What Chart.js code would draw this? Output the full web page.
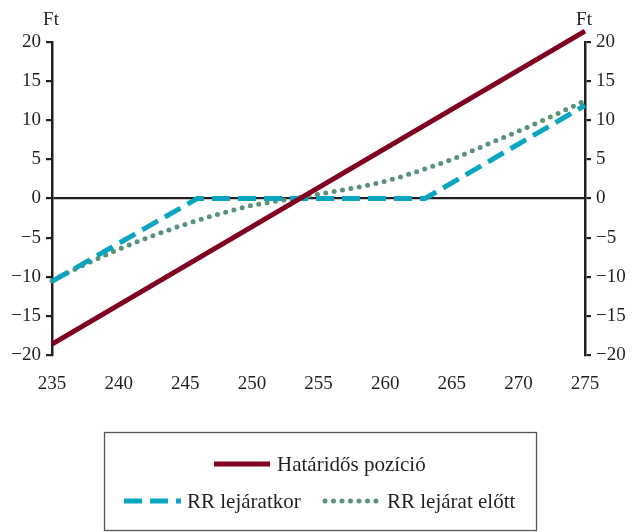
<!DOCTYPE html>
<html lang="hu">
<head>
<meta charset="UTF-8">
<title>Határidős pozíció és RR</title>
<script src="https://cdn.jsdelivr.net/npm/chart.js"></script>
<style>
  html, body { margin: 0; padding: 0; background: #fff; }
  #wrap { width: 635px; height: 532px; }
</style>
</head>
<body>
<div id="wrap"><canvas id="chart" width="635" height="532"></canvas></div>
<script>
// tick labels
const xTicks = [235, 240, 245, 250, 255, 260, 265, 270, 275];
const yTicks = [-20, -15, -10, -5, 0, 5, 10, 15, 20];
const unitLabel = 'Ft';

// series (x = árfolyam, y = eredmény Ft)
const fwdX = [235, 275];
const fwdY = [-18.6, 21.4];

const rrExpX = [235, 245.9, 263, 275];
const rrExpY = [-10.6, 0, 0, 11.9];

const rrPreX = [235, 237.5, 240, 242.5, 245, 247.5, 250, 252.5, 255, 257.5, 260, 262.5, 265, 267.5, 270, 272.5, 275];
const rrPreY = [-10.5, -8.4, -6.5, -4.8, -3.3, -2.0, -0.9, -0.15, 0.55, 1.3, 2.2, 3.5, 5.0, 6.8, 8.6, 10.5, 12.5];

const seriesNames = ['Határidős pozíció', 'RR lejáratkor', 'RR lejárat előtt'];

const toPts = (xs, ys) => xs.map((x, i) => ({x: x, y: ys[i]}));
const serif = 'Liberation Serif, Times New Roman, serif';
const ink = '#231f20';

const minus = v => v < 0 ? '\u2212' + Math.abs(v) : String(v);

// legend box + "Ft" unit labels, drawn on the canvas
const extras = {
  id: 'extras',
  afterDraw(chart) {
    const ctx = chart.ctx;
    const ds = chart.data.datasets;
    ctx.save();
    ctx.font = '19px ' + serif;
    ctx.fillStyle = ink;
    ctx.textBaseline = 'alphabetic';
    ctx.textAlign = 'center';
    ctx.fillText(unitLabel, chart.chartArea.left - 1, 25);
    ctx.fillText(unitLabel, chart.chartArea.right - 1, 25);

    // legend frame
    ctx.strokeStyle = '#555';
    ctx.lineWidth = 1.3;
    ctx.strokeRect(104.5, 432.5, 432, 98);

    const sample = (d, x0, x1, y) => {
      ctx.save();
      ctx.strokeStyle = d.borderColor;
      ctx.lineWidth = d.borderWidth;
      ctx.lineCap = d.borderCapStyle || 'butt';
      ctx.setLineDash(d.borderDash || []);
      ctx.beginPath();
      ctx.moveTo(x0, y);
      ctx.lineTo(x1, y);
      ctx.stroke();
      ctx.restore();
    };
    ctx.font = '21px ' + serif;
    ctx.textAlign = 'left';
    ctx.textBaseline = 'middle';
    sample(ds[0], 214, 270, 464);
    ctx.fillText(ds[0].label, 277, 465);
    sample(ds[1], 124, 181, 501);
    ctx.fillText(ds[1].label, 187, 502);
    sample(ds[2], 325, 383, 501);
    ctx.fillText(ds[2].label, 387, 502);
    ctx.restore();
  }
};

const yAxis = (pos) => ({
  type: 'linear',
  position: pos,
  min: yTicks[0],
  max: yTicks[yTicks.length - 1],
  afterBuildTicks: s => { s.ticks = yTicks.map(v => ({value: v})); },
  afterFit: s => { s.width = pos === 'left' ? 52 : 50; },
  border: { display: true, color: ink, width: 2.5 },
  grid: {
    drawOnChartArea: pos === 'left',
    color: c => (c.tick && c.tick.value === 0) ? ink : 'rgba(0,0,0,0)',
    tickColor: ink,
    lineWidth: 2.2,
    drawTicks: true,
    tickLength: 6
  },
  ticks: {
    color: ink,
    font: { family: serif, size: 19 },
    padding: 5,
    callback: v => minus(v)
  }
});

new Chart(document.getElementById('chart'), {
  type: 'line',
  data: {
    datasets: [
      {
        label: seriesNames[0],
        data: toPts(fwdX, fwdY),
        borderColor: '#800020',
        borderWidth: 5,
        pointRadius: 0,
        clip: false,
        yAxisID: 'y'
      },
      {
        label: seriesNames[1],
        data: toPts(rrExpX, rrExpY),
        borderColor: '#0aa6c0',
        borderWidth: 5,
        borderDash: [18, 8],
        pointRadius: 0,
        clip: false,
        yAxisID: 'y'
      },
      {
        label: seriesNames[2],
        data: toPts(rrPreX, rrPreY),
        borderColor: '#5a9276',
        borderWidth: 5,
        borderDash: [0, 8.5],
        borderCapStyle: 'round',
        cubicInterpolationMode: 'monotone',
        pointRadius: 0,
        clip: false,
        yAxisID: 'y'
      }
    ]
  },
  options: {
    responsive: false,
    animation: false,
    layout: { padding: { top: 42, left: 0, right: 0, bottom: 0 } },
    plugins: {
      legend: { display: false },
      tooltip: { enabled: false }
    },
    scales: {
      x: {
        type: 'linear',
        min: xTicks[0],
        max: xTicks[xTicks.length - 1],
        afterBuildTicks: s => { s.ticks = xTicks.map(v => ({value: v})); },
        afterFit: s => { s.height = 177; },
        border: { display: false },
        grid: { display: false, drawTicks: false },
        ticks: {
          color: ink,
          font: { family: serif, size: 19 },
          padding: 18,
          maxRotation: 0
        }
      },
      y: yAxis('left'),
      y2: yAxis('right')
    }
  },
  plugins: [extras]
});
</script>
</body>
</html>
